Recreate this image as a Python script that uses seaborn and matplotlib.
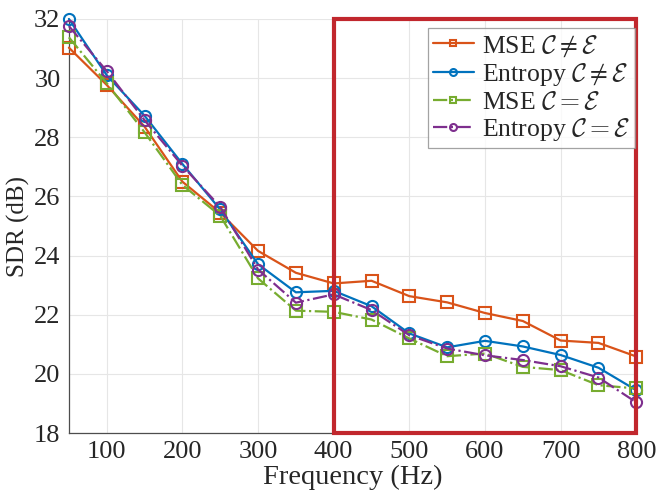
import matplotlib
matplotlib.use('Agg')
import matplotlib.pyplot as plt
from matplotlib.patches import Rectangle
import seaborn as sns
import pandas as pd
import numpy as np

freq = [50, 100, 150, 200, 250, 300, 350, 400, 450, 500, 550, 600, 650, 700, 750, 800]

mse_neq = [31.03, 29.77, 28.36, 26.50, 25.45, 24.16, 23.42, 23.06, 23.15, 22.63,
           22.42, 22.06, 21.79, 21.13, 21.05, 20.59]
ent_neq = [32.00, 30.10, 28.73, 27.10, 25.56, 23.71, 22.76, 22.81, 22.29, 21.37,
           20.90, 21.12, 20.93, 20.64, 20.21, 19.45]
mse_eq = [31.38, 29.83, 28.17, 26.39, 25.35, 23.23, 22.14, 22.10, 21.84, 21.20,
          20.60, 20.69, 20.24, 20.13, 19.62, 19.51]
ent_eq = [31.76, 30.24, 28.58, 27.04, 25.65, 23.53, 22.41, 22.69, 22.16, 21.31,
          20.86, 20.63, 20.47, 20.26, 19.88, 19.04]

labels = [r'MSE $\mathcal{C} \neq \mathcal{E}$',
          r'Entropy $\mathcal{C} \neq \mathcal{E}$',
          r'MSE $\mathcal{C} = \mathcal{E}$',
          r'Entropy $\mathcal{C} = \mathcal{E}$']

sns.set_style('whitegrid')
plt.rcParams['font.family'] = ['Liberation Serif', 'DejaVu Serif']
plt.rcParams['mathtext.fontset'] = 'cm'

fig = plt.figure(figsize=(6.56, 4.99), dpi=100)
ax = fig.add_axes([0.105, 0.132, 0.865, 0.830])

series = [
    (mse_neq, '#D95319', '-', 's'),
    (ent_neq, '#0072BD', '-', 'o'),
    (mse_eq, '#77AC30', '-.', 's'),
    (ent_eq, '#7E2F8E', '-.', 'o'),
]

for (vals, col, ls, mk), lab in zip(series, labels):
    df = pd.DataFrame({'freq': freq, 'sdr': vals})
    sns.lineplot(data=df, x='freq', y='sdr', ax=ax, color=col, linestyle=ls,
                 marker=mk, markersize=8, markerfacecolor='none',
                 markeredgecolor=col, markeredgewidth=1.5, linewidth=1.6,
                 label=lab, clip_on=False, zorder=5)

ax.set_xlim(50, 800)
ax.set_ylim(18, 32)
ax.set_xticks(np.arange(100, 801, 100))
ax.set_yticks(np.arange(18, 33, 2))
ax.tick_params(axis='both', direction='in', length=4, labelsize=19,
               colors='#262626', pad=6)
ax.grid(True, color='#E6E6E6', linewidth=0.8)
for side in ['top', 'right']:
    ax.spines[side].set_visible(False)
for side in ['left', 'bottom']:
    ax.spines[side].set_color('#4D4D4D')
    ax.spines[side].set_linewidth(0.9)

ax.set_xlabel('Frequency (Hz)', fontsize=20.5, color='#262626', labelpad=1)
ax.set_ylabel('SDR (dB)', fontsize=18, color='#262626', labelpad=3)

rect = Rectangle((400, 18), 400, 14, fill=False, edgecolor='#C1272D',
                 linewidth=3, clip_on=False, zorder=10)
ax.add_patch(rect)

leg = ax.legend(loc='upper right', bbox_to_anchor=(0.998, 0.978), fontsize=18.5,
                frameon=True, fancybox=False, handlelength=1.6,
                handletextpad=0.3, borderpad=0.2, labelspacing=0.1,
                borderaxespad=0.0)
leg.get_frame().set_edgecolor('#8C8C8C')
leg.get_frame().set_linewidth(0.9)
leg.set_zorder(12)
for h in leg.legend_handles:
    h.set_markersize(5)

plt.savefig('out.png', dpi=100)
plt.close()
